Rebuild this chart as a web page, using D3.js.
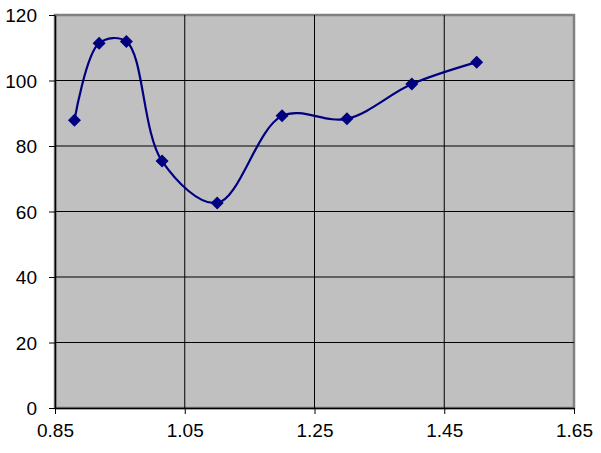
<!DOCTYPE html>
<html><head><meta charset="utf-8">
<script src="https://cdn.jsdelivr.net/npm/d3@7"></script>
<style>body{margin:0;background:#fff;} svg{display:block;}</style>
</head><body>
<script>
const xValues = [0.88, 0.918, 0.96, 1.015, 1.10, 1.20, 1.30, 1.40, 1.50];
const yValues = [87.9, 111.4, 111.9, 75.4, 62.6, 89.2, 88.3, 98.9, 105.6];
const xTicks = [0.85, 1.05, 1.25, 1.45, 1.65];
const yTicks = [0, 20, 40, 60, 80, 100, 120];

const W = 601, H = 453;
const m = {left: 55, right: 27, top: 15, bottom: 45};
const svg = d3.select("body").append("svg").attr("width", W).attr("height", H);
const x = d3.scaleLinear().domain([0.85, 1.65]).range([m.left, W - m.right]);
const y = d3.scaleLinear().domain([0, 120]).range([H - m.bottom, m.top]);

svg.append("rect").attr("x", x(0.85)).attr("y", y(120))
  .attr("width", x(1.65) - x(0.85)).attr("height", y(0) - y(120))
  .attr("fill", "#c0c0c0").attr("stroke", "#808080").attr("stroke-width", 2.5);

svg.append("g").selectAll("line").data(yTicks.filter(d => d > 0 && d < 120)).join("line")
  .attr("x1", x(0.85)).attr("x2", x(1.65)).attr("y1", d => y(d)).attr("y2", d => y(d))
  .attr("stroke", "#000").attr("stroke-width", 1);
svg.append("g").selectAll("line").data(xTicks.filter(d => d > 0.85 && d < 1.65)).join("line")
  .attr("y1", y(0)).attr("y2", y(120)).attr("x1", d => x(d)).attr("x2", d => x(d))
  .attr("stroke", "#000").attr("stroke-width", 1);

const font = "'Liberation Sans', Arial, sans-serif";
const xAxis = svg.append("g").attr("transform", `translate(0,${y(0)})`)
  .call(d3.axisBottom(x).tickValues(xTicks).tickFormat(d3.format(".2f")).tickSize(6).tickSizeOuter(0));
const yAxis = svg.append("g").attr("transform", `translate(${x(0.85)},0)`)
  .call(d3.axisLeft(y).tickValues(yTicks).tickFormat(d3.format("d")).tickSize(6).tickSizeOuter(0));
[xAxis, yAxis].forEach(a => {
  a.select(".domain").attr("stroke", "#000").attr("stroke-width", 1.5);
  a.selectAll(".tick line").attr("stroke", "#000");
  a.selectAll("text").attr("font-family", font).attr("font-size", 19).attr("fill", "#000");
});
xAxis.selectAll("text").attr("y", 0).attr("dy", "1.2em").attr("transform", "translate(0,6)");
yAxis.selectAll("text").attr("x", -18).attr("dy", "0.36em");

const pts = xValues.map((v, i) => [v, yValues[i]]);
svg.append("path").datum(pts)
  .attr("d", d3.line().x(d => x(d[0])).y(d => y(d[1])).curve(d3.curveCatmullRom.alpha(0.5)))
  .attr("fill", "none").attr("stroke", "#000080").attr("stroke-width", 2.2);

svg.append("g").selectAll("path").data(pts).join("path")
  .attr("transform", d => `translate(${x(d[0])},${y(d[1])})`)
  .attr("d", "M0,-6.5L6.5,0L0,6.5L-6.5,0Z").attr("fill", "#000080");
</script>
</body></html>
